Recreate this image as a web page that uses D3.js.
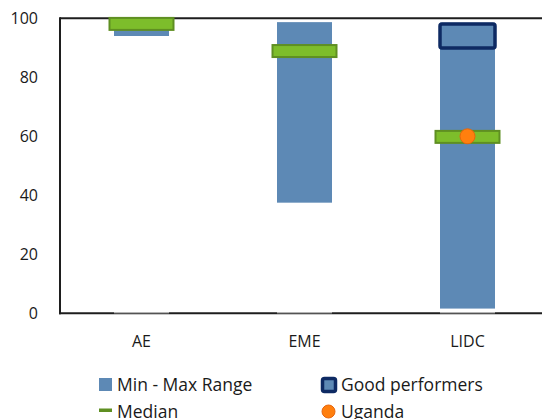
<!DOCTYPE html>
<html>
<head>
<meta charset="utf-8">
<script src="https://cdn.jsdelivr.net/npm/d3@7/dist/d3.min.js"></script>
<style>
  html, body { margin: 0; padding: 0; background: #fff; }
  svg { display: block; }
  text { font-family: "Open Sans", "Noto Sans", sans-serif; fill: #1a1a1a; }
</style>
</head>
<body>
<svg id="chart" width="542" height="419"></svg>
<script>
// Country groups and their summary statistics (index, 0-100)
const categories = ["AE", "EME", "LIDC"];
const rangeMin = [94, 37.5, 1.6];
const rangeMax = [100, 98.7, 98.5];
const medians = [98.1, 88.9, 59.8];
const goodPerformers = [null, null, 94.0];
const uganda = [null, null, 60];
const yTicks = [0, 20, 40, 60, 80, 100];

const colors = {
  range: "#5D89B5",
  median: "#7DBD2B",
  medianStroke: "#5F8F22",
  good: "#0E2A63",
  uganda: "#FF7F0E",
  ugandaStroke: "#E8650A",
  axis: "#1e1e1e"
};

const svg = d3.select("#chart");
const plot = { left: 60, right: 549, top: 18.3, bottom: 313.3 };

const x = d3.scaleBand().domain(categories).range([plot.left, plot.right]).padding(0);
const y = d3.scaleLinear().domain([0, 100]).range([plot.bottom, plot.top]);

const barW = 55, medW = 64, medH = 12, goodW = 55, goodH = 24;
const cx = c => x(c) + x.bandwidth() / 2;

const rows = categories.map((c, i) => ({
  cat: c, min: rangeMin[i], max: rangeMax[i], med: medians[i],
  good: goodPerformers[i], uga: uganda[i]
}));

// Min-max range bars
svg.append("g").selectAll("rect").data(rows).join("rect")
  .attr("x", d => cx(d.cat) - barW / 2)
  .attr("y", d => y(d.max))
  .attr("width", barW)
  .attr("height", d => y(d.min) - y(d.max))
  .attr("fill", colors.range);

// Frame: left axis, top border, bottom axis
const frame = svg.append("g").attr("stroke", colors.axis).attr("stroke-width", 2).attr("fill", "none");
frame.append("line").attr("x1", plot.left).attr("x2", plot.right).attr("y1", y(100)).attr("y2", y(100));
frame.append("line").attr("x1", plot.left).attr("x2", plot.left).attr("y1", y(100) - 1).attr("y2", y(0) + 1);
frame.append("line").attr("x1", plot.left - 1).attr("x2", plot.right).attr("y1", y(0)).attr("y2", y(0));

// Invisible stacked base bars leave a faint white edge on the baseline
svg.append("g").selectAll("line").data(rows).join("line")
  .attr("x1", d => cx(d.cat) - barW / 2)
  .attr("x2", d => cx(d.cat) + barW / 2)
  .attr("y1", y(0) - 0.5).attr("y2", y(0) - 0.5)
  .attr("stroke", "#fff").attr("stroke-width", 1).attr("opacity", 0.8);

// Good performers box
svg.append("g").selectAll("rect").data(rows.filter(d => d.good != null)).join("rect")
  .attr("x", d => cx(d.cat) - goodW / 2)
  .attr("y", d => y(d.good) - goodH / 2)
  .attr("width", goodW)
  .attr("height", goodH)
  .attr("rx", 2)
  .attr("fill", colors.range)
  .attr("stroke", colors.good)
  .attr("stroke-width", 3.5);

// Median markers
svg.append("g").selectAll("rect").data(rows).join("rect")
  .attr("x", d => cx(d.cat) - medW / 2)
  .attr("y", d => y(d.med) - medH / 2)
  .attr("width", medW)
  .attr("height", medH)
  .attr("fill", colors.median)
  .attr("stroke", colors.medianStroke)
  .attr("stroke-width", 2);

// Uganda point
svg.append("g").selectAll("circle").data(rows.filter(d => d.uga != null)).join("circle")
  .attr("cx", d => cx(d.cat))
  .attr("cy", d => y(d.uga))
  .attr("r", 7.5)
  .attr("fill", colors.uganda)
  .attr("stroke", colors.ugandaStroke)
  .attr("stroke-width", 1);

// Y axis labels
const yAxis = svg.append("g")
  .attr("transform", `translate(${plot.left},0)`)
  .call(d3.axisLeft(y).tickValues(yTicks).tickSize(0).tickPadding(22).tickFormat(d3.format("d")));
yAxis.select(".domain").remove();
yAxis.selectAll("text").style("font-size", "16px").attr("fill", "#1a1a1a");
yAxis.attr("font-family", null);

// X axis labels
const xAxis = svg.append("g")
  .attr("transform", `translate(0,${plot.bottom})`)
  .call(d3.axisBottom(x).tickSize(0).tickPadding(22));
xAxis.select(".domain").remove();
xAxis.selectAll("text").style("font-size", "16px").attr("fill", "#1a1a1a");
xAxis.attr("font-family", null);

// Legend
const legend = svg.append("g").style("font-size", "17.5px");
const l1 = legend.append("g").attr("transform", "translate(99,378)");
l1.append("rect").attr("width", 13).attr("height", 13).attr("fill", colors.range);
l1.append("text").attr("x", 18).attr("y", 13).text("Min - Max Range");

const l2 = legend.append("g").attr("transform", "translate(99,410)");
l2.append("rect").attr("y", -1.5).attr("width", 13).attr("height", 3.5).attr("fill", colors.medianStroke);
l2.append("text").attr("x", 18).attr("y", 7.5).text("Median");

const l3 = legend.append("g").attr("transform", "translate(321,377)");
l3.append("rect").attr("x", 1.5).attr("y", 1.5).attr("width", 13).attr("height", 13).attr("rx", 2)
  .attr("fill", colors.range).attr("stroke", colors.good).attr("stroke-width", 3.5);
l3.append("text").attr("x", 20).attr("y", 14).text("Good performers");

const l4 = legend.append("g").attr("transform", "translate(321,410)");
l4.append("circle").attr("cx", 7.5).attr("cy", 1.5).attr("r", 6.5)
  .attr("fill", colors.uganda).attr("stroke", colors.ugandaStroke);
l4.append("text").attr("x", 20).attr("y", 7.5).text("Uganda");
</script>
</body>
</html>
